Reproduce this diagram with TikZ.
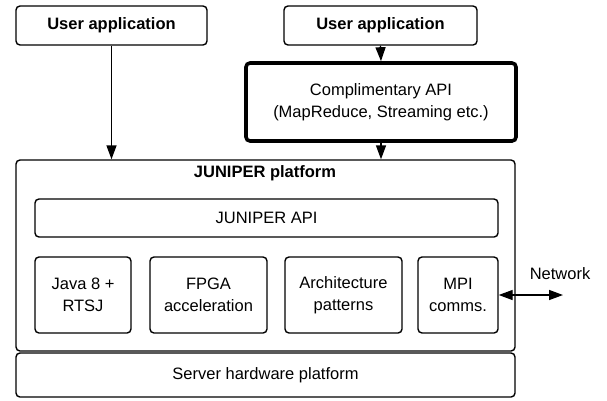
\documentclass[tikz,border=0pt]{standalone}
\usepackage{fontspec}
\setmainfont{Liberation Sans}
\usetikzlibrary{arrows.meta}

\begin{document}
\begin{tikzpicture}[x=1pt,y=-1pt,>={Triangle[length=14pt,width=10pt]},semithick]
  \tikzstyle{every node}=[font=\fontsize{16.5}{22}\selectfont]
  \tikzstyle{block}=[draw,line width=1.4pt,rounded corners=4pt,align=center,inner sep=0pt]
  \tikzstyle{link}=[->,line width=1.4pt]
  \useasboundingbox (0,0) rectangle (607,400);

  \node[block,font=\fontsize{16.5}{22}\selectfont\bfseries,minimum width=191pt,minimum height=39pt] (app1) at (111.5,25.5) {User application};
  \node[block,font=\fontsize{16.5}{22}\selectfont\bfseries,minimum width=193pt,minimum height=39pt] (app2) at (380.5,25.5) {User application};
  \node[block,line width=3.6pt,minimum width=270pt,minimum height=78pt] (capi) at (381,102) {Complimentary API\\(MapReduce, Streaming etc.)};

  \node[block,minimum width=499pt,minimum height=191pt] (platform) at (265.5,255.5) {};
  \node[font=\fontsize{16.5}{22}\selectfont\bfseries] (title) at (265,173) {JUNIPER platform};
  \node[block,minimum width=463pt,minimum height=38pt] (japi) at (266.5,218) {JUNIPER API};
  \node[block,minimum width=96pt,minimum height=76pt] (java) at (83,295) {Java 8 +\\RTSJ};
  \node[block,minimum width=117pt,minimum height=76pt] (fpga) at (208.5,295) {FPGA\\acceleration};
  \node[block,minimum width=117pt,minimum height=76pt] (arch) at (343.5,295) {Architecture\\patterns};
  \node[block,minimum width=80pt,minimum height=76pt] (mpi) at (458,295) {MPI\\comms.};
  \node[block,minimum width=499pt,minimum height=44pt] (server) at (265.5,375) {Server hardware platform};

  \node (network) at (560,274) {Network};
  \coordinate (net) at (563,295);

  \draw[link] (app1.south) -- (app1.south |- platform.north);
  \draw[link] (app2.south) -- (capi.north);
  \draw[link] (capi.south) -- (capi.south |- platform.north);
  \draw[link,<->] (mpi.east) -- (net);
\end{tikzpicture}
\end{document}
